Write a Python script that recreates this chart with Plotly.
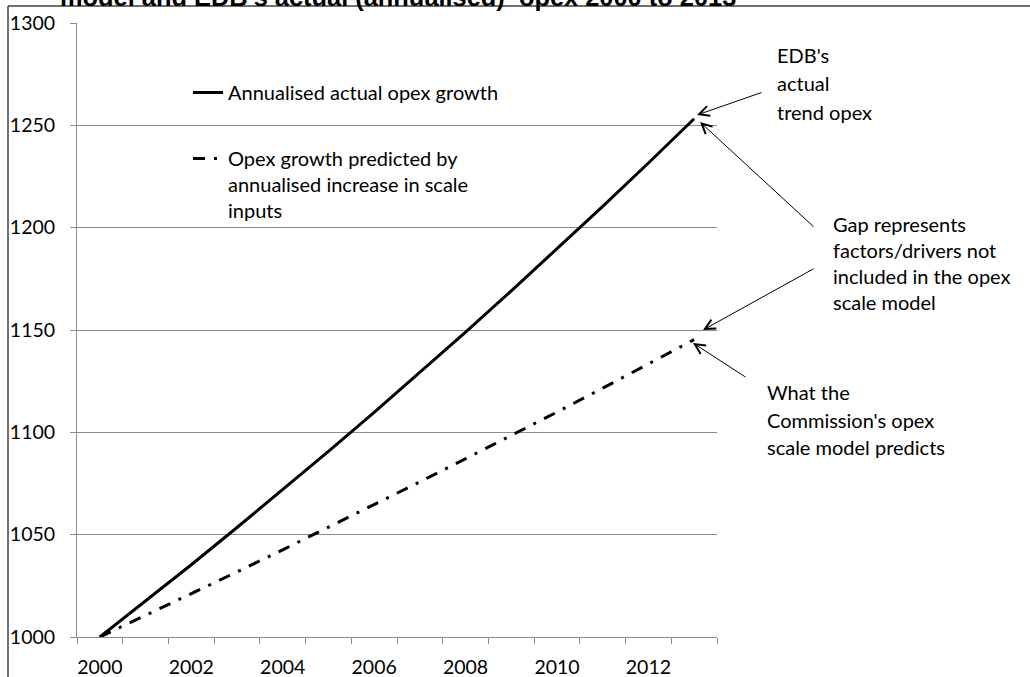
import plotly.graph_objects as go

years = [str(y) for y in range(2000, 2014)]
year_labels = [y if int(y) % 2 == 0 else "" for y in years]
actual_growth = [1000, 1017.5, 1035.3, 1053.5, 1071.9, 1090.7, 1109.8,
                 1129.2, 1149.0, 1169.1, 1189.6, 1210.4, 1231.6, 1253.2]
predicted_growth = [1000, 1010.5, 1021.1, 1031.8, 1042.6, 1053.6, 1064.6,
                    1075.8, 1087.1, 1098.4, 1109.9, 1121.6, 1133.3, 1145.3]
y_ticks = [1000, 1050, 1100, 1150, 1200, 1250, 1300]

W, H = 1030, 677
L, R, T, B = 77, 717, 23, 637
FONT = "Lato"
FS = 20
TICKFS = 19.5
GRID = "#8c8c8c"


def px(p):
    return (p - L) / (R - L)


def py(p):
    return (B - p) / (B - T)


fig = go.Figure()
fig.add_trace(go.Scatter(
    x=years, y=actual_growth, mode="lines",
    name="Annualised actual opex growth",
    line=dict(color="black", width=3),
    legendgroup="a",
))
fig.add_trace(go.Scatter(
    x=years, y=predicted_growth, mode="lines",
    name="Opex growth predicted by<br>annualised increase in scale<br>inputs",
    line=dict(color="black", width=3, dash="12px,9px,3px,9px"),
    legendgroup="b",
))

annotations = []
# title, cropped at the top edge as in the reference
annotations.append(dict(
    text="<b>model and EDB's actual (annualised)  opex 2000 to 2013</b>",
    xref="paper", yref="paper", x=px(58), y=py(-3), xanchor="left", yanchor="middle",
    showarrow=False, font=dict(family="Liberation Sans", size=25.4, color="black"),
))


def text_block(lines, x0, ys):
    for t, yy in zip(lines, ys):
        annotations.append(dict(
            text=t, xref="paper", yref="paper", x=px(x0), y=py(yy),
            xanchor="left", yanchor="middle", showarrow=False,
            font=dict(family=FONT, size=FS, color="black"),
        ))


text_block(["EDB's", "actual", "trend opex"], 775, [55, 83, 112])
text_block(["Gap represents", "factors/drivers not", "included in the opex", "scale model"],
           831, [224, 250, 276, 302])
text_block(["What the", "Commission's opex", "scale model predicts"], 765, [392, 420, 447])


def arrow(tail, tip):
    annotations.append(dict(
        text="", xref="paper", yref="paper", x=px(tip[0]), y=py(tip[1]),
        ax=tail[0] - tip[0], ay=tail[1] - tip[1], axref="pixel", ayref="pixel",
        showarrow=True, arrowhead=5, arrowsize=2, arrowwidth=1, arrowcolor="black",
    ))


arrow((763, 92), (697, 115))
arrow((815, 228), (700, 122))
arrow((815, 268), (703, 330))
arrow((747, 378), (693, 343))

shapes = [
    dict(type="line", xref="paper", yref="paper", x0=px(8), x1=px(8), y0=py(6), y1=py(700),
         line=dict(color="#404040", width=1.5)),
    dict(type="line", xref="paper", yref="paper", x0=px(8), x1=px(1040), y0=py(6), y1=py(6),
         line=dict(color="#404040", width=1.5)),
]

fig.update_layout(
    width=W, height=H,
    margin=dict(l=L, r=W - R, t=T, b=H - B, autoexpand=False),
    paper_bgcolor="white", plot_bgcolor="white",
    font=dict(family=FONT, size=FS, color="black"),
    showlegend=True,
    legend=dict(
        x=px(188), y=py(73), xanchor="left", yanchor="top",
        bgcolor="rgba(0,0,0,0)", borderwidth=0,
        font=dict(family=FONT, size=FS, color="black"),
        tracegroupgap=37, valign="top",
    ),
    xaxis=dict(
        type="category", tickmode="array", tickvals=years, ticktext=year_labels,
        tickson="boundaries", ticks="outside", ticklen=6, tickcolor=GRID,
        showline=True, linecolor=GRID, linewidth=1, showgrid=False,
        range=[-0.5, 13.5], zeroline=False, tickangle=0, automargin=False,
        ticklabelstandoff=13, tickfont=dict(size=TICKFS),
    ),
    yaxis=dict(
        range=[1000, 1300], tickvals=y_ticks, ticks="outside", ticklen=6,
        tickcolor=GRID, showline=True, linecolor=GRID, linewidth=1,
        showgrid=True, gridcolor=GRID, gridwidth=1, zeroline=False,
        ticklabelstandoff=11, automargin=False, tickfont=dict(size=TICKFS),
    ),
    annotations=annotations,
    shapes=shapes,
)

fig.write_html(
    "out.html",
    config={"displayModeBar": False},
    post_script="document.body.style.margin='0';document.body.style.overflow='hidden';",
)
